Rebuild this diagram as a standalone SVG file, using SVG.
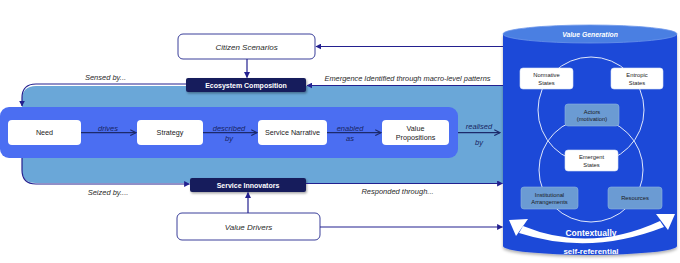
<svg xmlns="http://www.w3.org/2000/svg" width="680" height="263" viewBox="0 0 680 263">
<defs>
<marker id="tri" viewBox="0 0 10 10" refX="9" refY="5" markerWidth="5" markerHeight="5" orient="auto-start-reverse">
<path d="M0,0 L10,5 L0,10 Z" fill="#23208f"/>
</marker>
<marker id="chev" viewBox="0 0 10 10" refX="9" refY="5" markerWidth="6" markerHeight="6" orient="auto">
<path d="M1,1 L9,5 L1,9" fill="none" stroke="#1c2a6b" stroke-width="1.6"/>
</marker>
<filter id="sh" x="-10%" y="-20%" width="130%" height="160%">
<feDropShadow dx="1" dy="1.5" stdDeviation="1" flood-color="#000" flood-opacity="0.35"/>
</filter>
<filter id="csh" x="-10%" y="-5%" width="120%" height="115%">
<feDropShadow dx="0" dy="2" stdDeviation="1.5" flood-color="#000" flood-opacity="0.3"/>
</filter>
</defs>
<style>
.wb{fill:#fff;stroke:#3a3f9a;stroke-width:1}
.nav{fill:#181d5c}
.pb{fill:#fff}
.lbl{font-family:"Liberation Sans",Arial,sans-serif;font-style:italic;fill:#2a2a2a;}
.nt{font-family:"Liberation Sans",Arial,sans-serif;font-weight:bold;fill:#fff;font-size:7px;text-anchor:middle}
.pt{font-family:"Liberation Sans",Arial,sans-serif;fill:#1a1a1a;font-size:7.2px;text-anchor:middle}
.cl{font-family:"Liberation Sans",Arial,sans-serif;font-style:italic;fill:#18255f;font-size:7.5px;text-anchor:middle}
.ct{font-family:"Liberation Sans",Arial,sans-serif;fill:#1a1a1a;font-size:5.8px;text-anchor:middle}
.con{fill:none;stroke:#23208f;stroke-width:1.2}
.ch{fill:none;stroke:#1c2a6b;stroke-width:1.2}
.sb{fill:#fff;stroke:#d8e2f5;stroke-width:0.6}
.mb{fill:#6b9bd3;stroke:#8fb3e0;stroke-width:0.6}
</style>

<!-- background regions -->
<path d="M503,86 V183 H36 Q22,183 22,169 V100 Q22,86 36,86 Z" fill="#6aa7d8"/>
<rect x="0" y="107" width="458" height="51" rx="9" fill="#4b6ef2"/>

<!-- cylinder -->
<g id="value-generation">
<path d="M503,34 V246 A87,9 0 0 0 677,246 V34 Z" fill="#1f48d8" filter="url(#csh)"/>
<ellipse cx="590" cy="34" rx="87" ry="9" fill="#4a7fe2" stroke="#6c95ea" stroke-width="0.8"/>
<text x="590" y="36.5" font-family="Liberation Sans, Arial, sans-serif" font-size="6.8" font-weight="bold" font-style="italic" fill="#fff" text-anchor="middle">Value Generation</text>
<circle cx="591" cy="110" r="53" fill="none" stroke="#dfe7fb" stroke-width="1"/>
<circle cx="591" cy="170" r="52" fill="none" stroke="#dfe7fb" stroke-width="1"/>
<g id="normative-states"><rect class="sb" x="520" y="68" width="53" height="21" rx="3"/>
<text class="ct" x="546.5" y="77">Normative</text><text class="ct" x="546.5" y="84.5">States</text></g>
<g id="entropic-states"><rect class="sb" x="611" y="68" width="52" height="21" rx="3"/>
<text class="ct" x="637" y="77">Entropic</text><text class="ct" x="637" y="84.5">States</text></g>
<g id="actors"><rect class="mb" x="565" y="104" width="54" height="22" rx="3"/>
<text class="ct" x="592" y="113.5">Actors</text><text class="ct" x="592" y="121">(motivation)</text></g>
<g id="emergent-states"><rect class="sb" x="565" y="150" width="53" height="21" rx="3"/>
<text class="ct" x="591.5" y="159">Emergent</text><text class="ct" x="591.5" y="166.5">States</text></g>
<g id="institutional-arrangements"><rect class="mb" x="521" y="187" width="57" height="22" rx="3"/>
<text class="ct" x="549.5" y="196.5">Institutional</text><text class="ct" x="549.5" y="204">Arrangements</text></g>
<g id="resources"><rect class="mb" x="608" y="187" width="54" height="22" rx="3"/>
<text class="ct" x="635" y="200">Resources</text></g>
<path d="M523,226 Q590,253.5 660,221 L664,227 Q590,256 519,233 Z" fill="#fff"/>
<polygon points="509,220 528,219 516,236" fill="#fff"/>
<polygon points="675,214 668,230 656,214" fill="#fff"/>
<text x="591" y="236" font-family="Liberation Sans, Arial, sans-serif" font-size="8.5" font-weight="bold" fill="#fff" text-anchor="middle">Contextually</text>
<text x="591" y="253.5" font-family="Liberation Sans, Arial, sans-serif" font-size="8" font-weight="bold" fill="#fff" text-anchor="middle">self-referential</text>
</g>

<!-- nodes -->
<g id="citizen-scenarios">
<rect class="wb" x="178" y="34" width="137" height="25" rx="5"/>
<text class="lbl" x="246.5" y="49.5" font-size="8" text-anchor="middle">Citizen Scenarios</text>
</g>
<g id="ecosystem-composition">
<rect class="nav" x="186" y="78" width="120" height="14" rx="2" filter="url(#sh)"/>
<text class="nt" x="246" y="87.5">Ecosystem Composition</text>
</g>
<g id="service-innovators">
<rect class="nav" x="190" y="178" width="116" height="14" rx="2" filter="url(#sh)"/>
<text class="nt" x="248" y="187.5">Service Innovators</text>
</g>
<g id="value-drivers">
<rect class="wb" x="177" y="213" width="143" height="27" rx="5"/>
<text class="lbl" x="248.5" y="229.5" font-size="8" text-anchor="middle">Value Drivers</text>
</g>
<g id="need"><rect class="pb" x="8" y="120" width="73" height="25" rx="4"/><text class="pt" x="44.5" y="135">Need</text></g>
<g id="strategy"><rect class="pb" x="137" y="120" width="66" height="25" rx="4"/><text class="pt" x="170" y="135">Strategy</text></g>
<g id="service-narrative"><rect class="pb" x="258" y="120" width="69" height="25" rx="4"/><text class="pt" x="292.5" y="135">Service Narrative</text></g>
<g id="value-propositions"><rect class="pb" x="382" y="120" width="67" height="25" rx="4"/><text class="pt" x="415.5" y="131">Value</text><text class="pt" x="415.5" y="140">Propositions</text></g>

<!-- connectors -->
<g id="connectors">
<line class="con" x1="503" y1="46.5" x2="316" y2="46.5" marker-end="url(#tri)"/>
<line class="con" x1="247" y1="59" x2="247" y2="77.5" marker-end="url(#tri)"/>
<line class="con" x1="503" y1="85.5" x2="307" y2="85.5" marker-end="url(#tri)"/>
<path class="con" d="M186,84 H36 Q22,84 22,98 V106" marker-end="url(#tri)"/>
<path class="con" d="M22,158 V170 Q22,184 36,184 H189.5" marker-end="url(#tri)"/>
<line class="con" x1="306" y1="183.5" x2="502.5" y2="183.5" marker-end="url(#tri)"/>
<line class="con" x1="248" y1="213" x2="248" y2="192.5" marker-end="url(#tri)"/>
<line class="con" x1="320" y1="227" x2="502.5" y2="227" marker-end="url(#tri)"/>
<line class="ch" x1="81" y1="132.7" x2="136" y2="132.7" marker-end="url(#chev)"/>
<line class="ch" x1="203" y1="132.7" x2="257" y2="132.7" marker-end="url(#chev)"/>
<line class="ch" x1="327" y1="132.7" x2="381" y2="132.7" marker-end="url(#chev)"/>
<line class="ch" x1="458" y1="132.7" x2="500" y2="132.7" stroke-width="1.6" marker-end="url(#chev)"/>
<text class="lbl" x="407.5" y="81" font-size="7.4" text-anchor="middle">Emergence Identified through macro-level patterns</text>
<text class="lbl" x="105.5" y="79.5" font-size="7.5" text-anchor="middle">Sensed by...</text>
<text class="lbl" x="108" y="194.5" font-size="7.5" text-anchor="middle">Seized by....</text>
<text class="lbl" x="397.5" y="193.5" font-size="7.5" text-anchor="middle">Responded through...</text>
<text class="cl" x="108" y="130.5">drives</text>
<text class="cl" x="229" y="130.5">described</text>
<text class="cl" x="229" y="140.5">by</text>
<text class="cl" x="350" y="130.5">enabled</text>
<text class="cl" x="350" y="140.5">as</text>
<text class="cl" x="479" y="128.5">realised</text>
<text class="cl" x="479" y="145">by</text>
</g>
</svg>
